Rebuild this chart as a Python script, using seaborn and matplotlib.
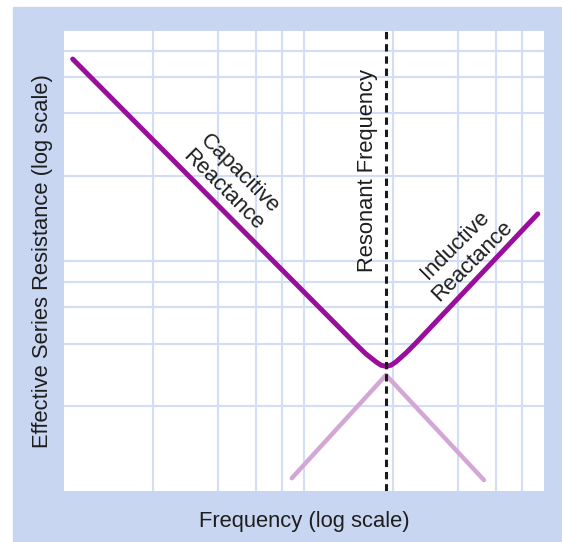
import matplotlib
matplotlib.use("Agg")
import matplotlib.pyplot as plt
from matplotlib.patches import Rectangle
from matplotlib.ticker import NullLocator
import seaborn as sns

# ESR curve (frequency, resistance), both log scale
ESR_FREQ = [1.087, 16.31, 18.13, 19.95, 20.94, 21.97, 23.04, 24.17, 26.61, 29.29, 94.2]
ESR_VALUE = [75.3, 4.38, 3.94, 3.64, 3.52, 3.48, 3.52, 3.64, 3.98, 4.40, 16.0]

# faded asymptote tails below the resonance dip
CAP_TAIL_FREQ = [21.97, 56.2]
CAP_TAIL_VALUE = [3.19, 1.116]
IND_TAIL_FREQ = [8.89, 21.97]
IND_TAIL_VALUE = [1.136, 3.19]

RESONANT_FREQ = 21.97

# gridline positions (same pattern on both axes, two decades)
GRID_STEPS = [2.34, 4.37, 6.31, 8.13, 10, 23.4, 43.7, 63.1, 81.3]

PURPLE = "#990f9c"
LIGHT_PURPLE = "#d3a6d6"
FRAME = "#c8d6f2"
GRID = "#d2def8"
TEXT = "#1e1e1e"

sns.set_style("white")
plt.rcParams["font.family"] = ["Liberation Sans", "DejaVu Sans"]
FS = 15.8

fig = plt.figure(figsize=(5.62, 5.42), dpi=100)
fig.add_artist(Rectangle((13 / 562, 0), 1, (542 - 7) / 542,
                         transform=fig.transFigure, color=FRAME, zorder=-1))
ax = fig.add_axes([64 / 562, 51 / 542, 480 / 562, 460.3 / 542])
ax.set_facecolor("white")

sns.lineplot(x=IND_TAIL_FREQ, y=IND_TAIL_VALUE, color=LIGHT_PURPLE, lw=3.2,
             solid_capstyle="round", ax=ax, zorder=3)
sns.lineplot(x=CAP_TAIL_FREQ, y=CAP_TAIL_VALUE, color=LIGHT_PURPLE, lw=3.2,
             solid_capstyle="round", ax=ax, zorder=3)
sns.lineplot(x=ESR_FREQ, y=ESR_VALUE, sort=False, estimator=None, color=PURPLE,
             lw=3.6, solid_capstyle="round", solid_joinstyle="round", ax=ax, zorder=4)
ax.axvline(RESONANT_FREQ, color="#1a1a1a", lw=2.2, ls=(0, (2.4, 1.6)), zorder=5)

ax.set(xscale="log", yscale="log", xlim=(1, 100), ylim=(1, 100))
ax.set_xticks(GRID_STEPS)
ax.set_yticks(GRID_STEPS)
ax.xaxis.set_minor_locator(NullLocator())
ax.yaxis.set_minor_locator(NullLocator())
ax.set_xticklabels([])
ax.set_yticklabels([])
ax.tick_params(length=0)
ax.grid(True, color=GRID, lw=1.5, zorder=0)
ax.set_axisbelow(True)
for s in ax.spines.values():
    s.set_visible(False)

ax.set_xlabel("Frequency (log scale)", fontsize=FS, color=TEXT)
ax.xaxis.set_label_coords(0.5, -0.043)
ax.set_ylabel("Effective Series Resistance (log scale)", fontsize=FS, color=TEXT)
ax.yaxis.set_label_coords(-0.022, 0.5)

ax.text(0.633, 0.697, "Resonant Frequency", transform=ax.transAxes, rotation=90,
        ha="center", va="center", rotation_mode="anchor", fontsize=FS, color=TEXT)
ax.text(0.348, 0.672, "Capacitive\nReactance", transform=ax.transAxes, rotation=-45,
        ha="center", va="center", rotation_mode="anchor", multialignment="center",
        linespacing=1.15, fontsize=FS, color=TEXT)
ax.text(0.833, 0.517, "Inductive\nReactance", transform=ax.transAxes, rotation=45,
        ha="center", va="center", rotation_mode="anchor", multialignment="center",
        linespacing=1.15, fontsize=FS, color=TEXT)

fig.savefig("out.png", dpi=100)
plt.close(fig)
